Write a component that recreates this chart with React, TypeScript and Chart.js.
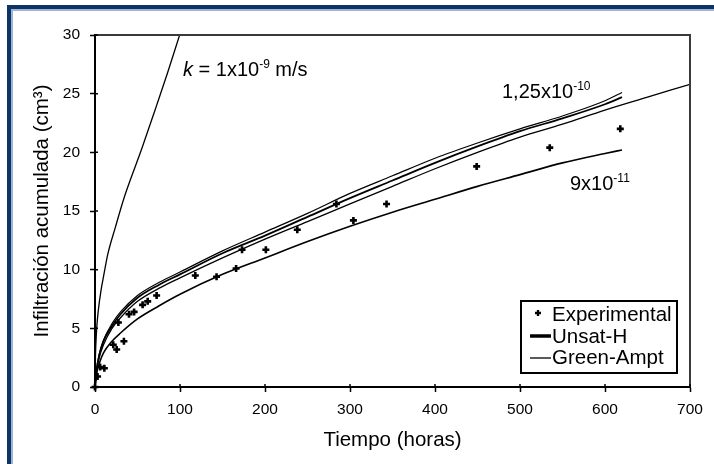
import React, { useEffect, useRef } from "react";
import { Chart, registerables } from "chart.js";

Chart.register(...registerables);

const FAM = "'Liberation Sans', Arial, sans-serif";

// Axis ticks
const xTicks = [0, 100, 200, 300, 400, 500, 600, 700];
const yTicks = [0, 5, 10, 15, 20, 25, 30];

// Experimental points
const expT = [0, 3, 6, 11, 21.5, 25.5, 27.5, 34, 40, 46, 56, 62, 72.5, 118, 143, 166, 173, 201, 238, 284, 304, 343, 449, 535, 618];
const expY = [0, 0.9, 1.7, 1.6, 3.6, 3.2, 5.5, 3.9, 6.2, 6.4, 7.0, 7.3, 7.8, 9.5, 9.4, 10.1, 11.7, 11.7, 13.4, 15.6, 14.2, 15.6, 18.8, 20.4, 22.0];

// k = 1e-9 curve
const steepT = [0, 0.5, 1, 2, 4, 7, 10, 15, 23.5, 35, 55, 72.5, 85, 100];
const steepY = [0, 2.5, 3.6, 5.0, 6.6, 8.2, 9.4, 11.3, 13.5, 16.3, 20.3, 24.0, 26.7, 30.1];

// Curves ending at 620 h
const curveT = [0, 2, 5, 10, 20, 30, 50, 75, 100, 150, 200, 250, 300, 350, 400, 450, 500, 550, 600, 620];
const gaHighY = [0, 1.6, 2.8, 4.0, 5.4, 6.4, 7.8, 8.9, 9.8, 11.6, 13.2, 14.8, 16.5, 18.0, 19.5, 20.8, 22.0, 23.1, 24.4, 25.1];
const unsatHighY = [0, 1.5, 2.7, 3.9, 5.2, 6.2, 7.6, 8.7, 9.6, 11.4, 12.9, 14.5, 16.1, 17.6, 19.1, 20.5, 21.8, 22.9, 24.1, 24.7];
const lowY = [0, 1.2, 2.0, 2.9, 3.9, 4.6, 5.8, 6.9, 7.9, 9.6, 11.0, 12.4, 13.7, 14.9, 16.0, 17.1, 18.1, 19.1, 19.9, 20.2];

// Long curve to 700 h
const longT = [0, 2, 5, 10, 20, 30, 50, 75, 100, 150, 200, 250, 300, 350, 400, 450, 500, 550, 600, 650, 700];
const longY = [0, 1.4, 2.5, 3.6, 5.0, 5.9, 7.3, 8.4, 9.3, 11.0, 12.6, 14.1, 15.6, 17.1, 18.6, 20.0, 21.3, 22.4, 23.6, 24.7, 25.8];

const legendLabels = ["Experimental", "Unsat-H", "Green-Ampt"];

const pts = (xs: number[], ys: number[]) => xs.map((x, i) => ({ x, y: ys[i] }));

type Part = { t: string; sup?: boolean; italic?: boolean };

function drawRich(ctx: CanvasRenderingContext2D, parts: Part[], x: number, y: number, size: number) {
  let cx = x;
  ctx.textAlign = "left";
  ctx.textBaseline = "alphabetic";
  ctx.fillStyle = "#000";
  for (const p of parts) {
    const fs = p.sup ? 12 : size;
    ctx.font = `${p.italic ? "italic " : ""}${fs}px ${FAM}`;
    const dy = p.sup ? -8 : 0;
    ctx.fillText(p.t, cx, y + dy);
    cx += ctx.measureText(p.t).width;
  }
}

const decor = {
  id: "decor",
  afterDraw(chart: any) {
    const { ctx, chartArea: a, scales } = chart;
    const xs = scales.x;
    const ys = scales.y;
    ctx.save();
    // top and right frame of plot
    ctx.strokeStyle = "#3a3a3a";
    ctx.lineWidth = 2;
    ctx.beginPath();
    ctx.moveTo(a.left, a.top);
    ctx.lineTo(a.right, a.top);
    ctx.lineTo(a.right, a.bottom);
    ctx.stroke();
    // inner tick parts
    ctx.strokeStyle = "#000";
    ctx.lineWidth = 1.5;
    ctx.beginPath();
    for (const v of yTicks) {
      const py = ys.getPixelForValue(v);
      ctx.moveTo(a.left, py);
      ctx.lineTo(a.left + 3, py);
    }
    for (const v of xTicks) {
      const px = xs.getPixelForValue(v);
      ctx.moveTo(px, a.bottom);
      ctx.lineTo(px, a.bottom - 3);
    }
    ctx.stroke();

    // annotations
    drawRich(ctx, [{ t: "k", italic: true }, { t: " = 1x10" }, { t: "-9", sup: true }, { t: " m/s" }],
      xs.getPixelForValue(103.5), ys.getPixelForValue(26.5), 20);
    drawRich(ctx, [{ t: "1,25x10" }, { t: "-10", sup: true }],
      xs.getPixelForValue(478.8), ys.getPixelForValue(24.6), 20);
    drawRich(ctx, [{ t: "9x10" }, { t: "-11", sup: true }],
      xs.getPixelForValue(558.8), ys.getPixelForValue(16.8), 20);

    // legend
    const bx = a.right - 169;
    const by = a.bottom - 86;
    const bw = 156;
    const bh = 72;
    ctx.fillStyle = "#fff";
    ctx.fillRect(bx, by, bw, bh);
    ctx.strokeStyle = "#000";
    ctx.lineWidth = 2;
    ctx.strokeRect(bx, by, bw, bh);
    // marker
    ctx.lineWidth = 2.3;
    ctx.beginPath();
    ctx.moveTo(bx + 14, by + 12);
    ctx.lineTo(bx + 20, by + 12);
    ctx.moveTo(bx + 17, by + 9);
    ctx.lineTo(bx + 17, by + 15);
    ctx.stroke();
    // Unsat-H line
    ctx.lineWidth = 3.5;
    ctx.beginPath();
    ctx.moveTo(bx + 9, by + 35);
    ctx.lineTo(bx + 30, by + 35);
    ctx.stroke();
    // Green-Ampt line
    ctx.lineWidth = 1.3;
    ctx.beginPath();
    ctx.moveTo(bx + 9, by + 57);
    ctx.lineTo(bx + 30, by + 57);
    ctx.stroke();
    ctx.fillStyle = "#000";
    ctx.font = `20.5px ${FAM}`;
    ctx.textAlign = "left";
    ctx.textBaseline = "alphabetic";
    ctx.fillText(legendLabels[0], bx + 31, by + 20);
    ctx.fillText(legendLabels[1], bx + 31, by + 42);
    ctx.fillText(legendLabels[2], bx + 31, by + 63);
    ctx.restore();
  },
};

export default function App() {
  const ref = useRef<HTMLCanvasElement | null>(null);

  useEffect(() => {
    if (!ref.current) return;
    const lineDs = (label: string, xs: number[], ys: number[], w: number) => ({
      label,
      data: pts(xs, ys),
      showLine: true,
      borderColor: "#000",
      backgroundColor: "#000",
      borderWidth: w,
      pointRadius: 0,
      cubicInterpolationMode: "monotone" as const,
      order: 2,
    });
    const chart = new Chart(ref.current, {
      type: "scatter",
      data: {
        datasets: [
          {
            label: "Experimental",
            data: pts(expT, expY),
            pointStyle: "cross",
            pointRadius: 3.5,
            pointBorderWidth: 2.6,
            borderColor: "#000",
            backgroundColor: "#000",
            showLine: false,
            clip: false as any,
            order: 1,
          },
          lineDs("k=1e-9", steepT, steepY, 1.3),
          lineDs("Green-Ampt 1.25e-10", curveT, gaHighY, 1.2),
          lineDs("Unsat-H 1.25e-10", curveT, unsatHighY, 1.8),
          lineDs("Green-Ampt", longT, longY, 1.3),
          lineDs("Unsat-H 9e-11", curveT, lowY, 1.6),
        ],
      },
      options: {
        animation: false,
        responsive: true,
        maintainAspectRatio: false,
        layout: { padding: { left: 0, top: 35, right: 24, bottom: 0 } },
        plugins: { legend: { display: false }, tooltip: { enabled: false } },
        scales: {
          x: {
            type: "linear",
            min: 0,
            max: 700,
            afterBuildTicks: (s: any) => {
              s.ticks = xTicks.map((v) => ({ value: v }));
            },
            afterFit: (s: any) => {
              s.height = 77;
            },
            ticks: { color: "#000", font: { family: FAM, size: 15.5 }, padding: 8 },
            grid: { display: true, drawOnChartArea: false, tickLength: 5, tickColor: "#000", tickWidth: 1.5 },
            border: { display: true, color: "#000", width: 2 },
            title: {
              display: true,
              text: "Tiempo (horas)",
              color: "#000",
              font: { family: FAM, size: 20.5 },
              padding: { top: 0, bottom: 11.7 },
            },
          },
          y: {
            type: "linear",
            min: 0,
            max: 30,
            afterBuildTicks: (s: any) => {
              s.ticks = yTicks.map((v) => ({ value: v }));
            },
            afterFit: (s: any) => {
              s.width = 95;
            },
            ticks: { color: "#000", font: { family: FAM, size: 15.5 }, padding: 10 },
            grid: { display: true, drawOnChartArea: false, tickLength: 5, tickColor: "#000", tickWidth: 1.5 },
            border: { display: true, color: "#000", width: 2 },
            title: {
              display: true,
              text: "Infiltración acumulada (cm³)",
              color: "#000",
              font: { family: FAM, size: 20.5 },
              padding: { top: 29.7, bottom: 0 },
            },
          },
        },
      },
      plugins: [decor],
    });
    return () => chart.destroy();
  }, []);

  return (
    <div style={{ position: "fixed", left: 0, top: 0, width: 714, height: 464, background: "#fff" }}>
      <div style={{ position: "absolute", left: 0, top: 0, width: 714, height: 464 }}>
        <canvas ref={ref} />
      </div>
      <div style={{ position: "absolute", left: 7, top: 5, width: 707, height: 4, background: "#0c3466" }} />
      <div style={{ position: "absolute", left: 7, top: 5, width: 4, height: 459, background: "#0c3466" }} />
      <div style={{ position: "absolute", left: 11, top: 9, width: 703, height: 1.5, background: "#9fb4d0" }} />
      <div style={{ position: "absolute", left: 11, top: 9, width: 1.5, height: 455, background: "#9fb4d0" }} />
    </div>
  );
}
